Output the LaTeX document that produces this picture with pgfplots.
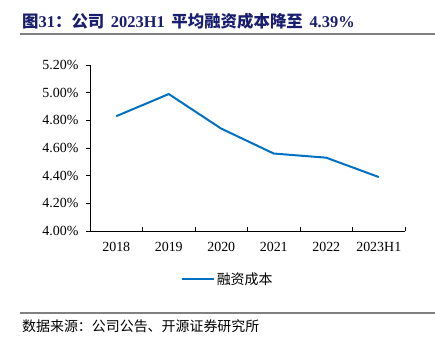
\documentclass[border=0pt]{standalone}
\usepackage{fontspec}
\setmainfont{Liberation Serif}
\newfontfamily\cjk{Noto Sans CJK SC}
\usepackage{pgfplots}
\pgfplotsset{compat=1.18}
\definecolor{navy}{RGB}{25,30,110}
\definecolor{lineblue}{RGB}{0,112,192}
\begin{document}
\begin{tikzpicture}[x=1bp,y=1bp]
\path[use as bounding box] (0,0) rectangle (435,348);
% title
\node[anchor=base west,inner sep=0,text=navy,font=\fontsize{16.5}{19}\selectfont\bfseries] at (22,321)
  {{\cjk 图}31{\cjk ：公司}\hspace{0.4em}2023H1\hspace{0.4em}{\cjk 平均融资成本降至}\hspace{0.4em}4.39\%};
\draw[gray,line width=1.2bp] (20,314) -- (435,314);
\draw[gray,line width=1.2bp] (20,35) -- (435,35);
\node[anchor=base west,inner sep=0,font=\fontsize{14}{16}\selectfont] at (22,17)
  {\cjk 数据来源：公司公告、开源证券研究所};
\begin{axis}[
  at={(90bp,117bp)}, anchor=south west,
  scale only axis, width=315bp, height=166bp,
  /pgf/number format/assume math mode=true,
  axis x line*=bottom, axis y line*=left,
  axis line style={-, line width=0.8bp, black},
  xmin=-0.5, xmax=5.5, ymin=4, ymax=5.2,
  xtick={0,...,5},
  xticklabels={2018,2019,2020,2021,2022,2023H1},
  minor xtick={-0.5,0.5,...,5.5},
  major x tick style={draw=none},
  minor x tick style={black, line width=0.6bp, yshift=4bp},
  minor tick length=4bp,
  major tick length=4bp,
  tick align=outside,
  ytick={4,4.2,...,5.21},
  yticklabel={\pgfmathprintnumber[fixed,fixed zerofill,precision=2]{\tick}\%},
  ytick style={black, line width=0.6bp},
  ticklabel style={font=\fontsize{14}{16}\selectfont},
  xticklabel style={yshift=-4bp},
  yticklabel style={xshift=-4bp},
  legend style={at={(0.437,-0.289)}, anchor=center, draw=none, fill=none,
    font=\fontsize{14}{16}\selectfont, inner sep=0pt},
  legend image code/.code={\draw[#1] (0,0) -- (32bp,0);},
]
\addplot[lineblue, line width=2bp, mark=none] coordinates {
  (0,4.83) (1,4.99) (2,4.74) (3,4.56) (4,4.53) (5,4.39)
};
\addlegendentry{\cjk 融资成本}
\end{axis}
\end{tikzpicture}
\end{document}
